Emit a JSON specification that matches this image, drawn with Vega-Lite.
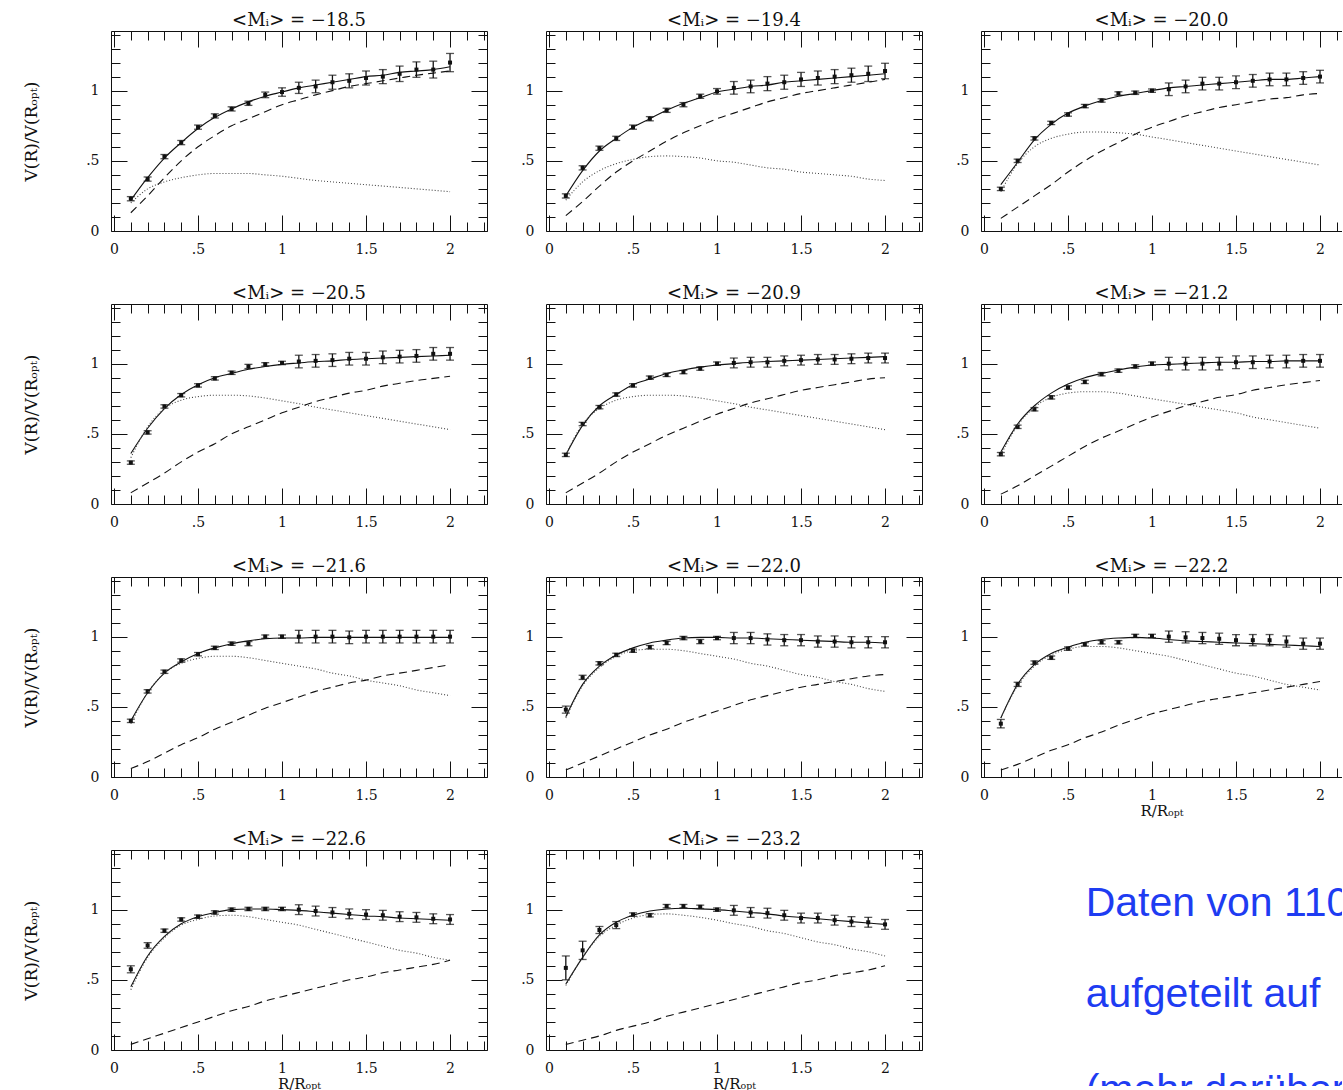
{
"$schema":"https://vega.github.io/schema/vega-lite/v6.json",
"padding":{"left":22,"top":11,"right":0,"bottom":0},
"background":"white",
"datasets":{
"rc":[
{"p":1,"x":0.1,"v":0.23,"e":0.015,"t":0.22,"d":0.2,"h":0.13},
{"p":1,"x":0.2,"v":0.37,"e":0.015,"t":0.38,"d":0.3,"h":0.25},
{"p":1,"x":0.3,"v":0.53,"e":0.015,"t":0.52,"d":0.35,"h":0.38},
{"p":1,"x":0.4,"v":0.63,"e":0.015,"t":0.63,"d":0.38,"h":0.5},
{"p":1,"x":0.5,"v":0.74,"e":0.015,"t":0.73,"d":0.4,"h":0.6},
{"p":1,"x":0.6,"v":0.82,"e":0.015,"t":0.81,"d":0.41,"h":0.68},
{"p":1,"x":0.7,"v":0.87,"e":0.015,"t":0.87,"d":0.41,"h":0.75},
{"p":1,"x":0.8,"v":0.91,"e":0.015,"t":0.92,"d":0.41,"h":0.8},
{"p":1,"x":0.9,"v":0.97,"e":0.02,"t":0.96,"d":0.4,"h":0.85},
{"p":1,"x":1.0,"v":0.99,"e":0.03,"t":0.99,"d":0.39,"h":0.9},
{"p":1,"x":1.1,"v":1.02,"e":0.04,"t":1.02,"d":0.375,"h":0.935},
{"p":1,"x":1.2,"v":1.03,"e":0.045,"t":1.04,"d":0.36,"h":0.97},
{"p":1,"x":1.3,"v":1.06,"e":0.05,"t":1.06,"d":0.35,"h":1.0},
{"p":1,"x":1.4,"v":1.07,"e":0.05,"t":1.08,"d":0.34,"h":1.03},
{"p":1,"x":1.5,"v":1.09,"e":0.05,"t":1.1,"d":0.33,"h":1.05},
{"p":1,"x":1.6,"v":1.1,"e":0.05,"t":1.11,"d":0.32,"h":1.07},
{"p":1,"x":1.7,"v":1.12,"e":0.055,"t":1.13,"d":0.31,"h":1.09},
{"p":1,"x":1.8,"v":1.15,"e":0.055,"t":1.14,"d":0.3,"h":1.11},
{"p":1,"x":1.9,"v":1.15,"e":0.06,"t":1.15,"d":0.29,"h":1.125},
{"p":1,"x":2.0,"v":1.2,"e":0.065,"t":1.17,"d":0.28,"h":1.14},
{"p":2,"x":0.1,"v":0.25,"e":0.015,"t":0.25,"d":0.22,"h":0.11},
{"p":2,"x":0.2,"v":0.45,"e":0.015,"t":0.43,"d":0.35,"h":0.21},
{"p":2,"x":0.3,"v":0.59,"e":0.015,"t":0.57,"d":0.43,"h":0.32},
{"p":2,"x":0.4,"v":0.66,"e":0.015,"t":0.66,"d":0.48,"h":0.42},
{"p":2,"x":0.5,"v":0.74,"e":0.015,"t":0.74,"d":0.51,"h":0.5},
{"p":2,"x":0.6,"v":0.8,"e":0.015,"t":0.8,"d":0.53,"h":0.57},
{"p":2,"x":0.7,"v":0.86,"e":0.015,"t":0.86,"d":0.535,"h":0.64},
{"p":2,"x":0.8,"v":0.9,"e":0.015,"t":0.91,"d":0.53,"h":0.7},
{"p":2,"x":0.9,"v":0.96,"e":0.015,"t":0.95,"d":0.52,"h":0.75},
{"p":2,"x":1.0,"v":0.995,"e":0.02,"t":0.99,"d":0.5,"h":0.8},
{"p":2,"x":1.1,"v":1.02,"e":0.045,"t":1.01,"d":0.49,"h":0.84},
{"p":2,"x":1.2,"v":1.03,"e":0.045,"t":1.03,"d":0.47,"h":0.88},
{"p":2,"x":1.3,"v":1.05,"e":0.05,"t":1.04,"d":0.45,"h":0.92},
{"p":2,"x":1.4,"v":1.06,"e":0.05,"t":1.06,"d":0.44,"h":0.95},
{"p":2,"x":1.5,"v":1.08,"e":0.05,"t":1.07,"d":0.42,"h":0.98},
{"p":2,"x":1.6,"v":1.09,"e":0.05,"t":1.08,"d":0.41,"h":1.0},
{"p":2,"x":1.7,"v":1.1,"e":0.05,"t":1.09,"d":0.4,"h":1.02},
{"p":2,"x":1.8,"v":1.11,"e":0.05,"t":1.1,"d":0.39,"h":1.04},
{"p":2,"x":1.9,"v":1.12,"e":0.055,"t":1.11,"d":0.37,"h":1.06},
{"p":2,"x":2.0,"v":1.14,"e":0.055,"t":1.12,"d":0.36,"h":1.08},
{"p":3,"x":0.1,"v":0.3,"e":0.012,"t":0.33,"d":0.28,"h":0.09},
{"p":3,"x":0.2,"v":0.5,"e":0.012,"t":0.49,"d":0.48,"h":0.17},
{"p":3,"x":0.3,"v":0.66,"e":0.012,"t":0.65,"d":0.6,"h":0.25},
{"p":3,"x":0.4,"v":0.77,"e":0.012,"t":0.76,"d":0.66,"h":0.33},
{"p":3,"x":0.5,"v":0.83,"e":0.012,"t":0.84,"d":0.69,"h":0.42},
{"p":3,"x":0.6,"v":0.89,"e":0.012,"t":0.89,"d":0.705,"h":0.5},
{"p":3,"x":0.7,"v":0.93,"e":0.012,"t":0.93,"d":0.705,"h":0.57},
{"p":3,"x":0.8,"v":0.98,"e":0.012,"t":0.96,"d":0.7,"h":0.63},
{"p":3,"x":0.9,"v":0.985,"e":0.012,"t":0.98,"d":0.69,"h":0.69},
{"p":3,"x":1.0,"v":1.0,"e":0.012,"t":1.0,"d":0.67,"h":0.74},
{"p":3,"x":1.1,"v":1.01,"e":0.045,"t":1.02,"d":0.65,"h":0.78},
{"p":3,"x":1.2,"v":1.03,"e":0.045,"t":1.03,"d":0.63,"h":0.82},
{"p":3,"x":1.3,"v":1.05,"e":0.045,"t":1.04,"d":0.61,"h":0.85},
{"p":3,"x":1.4,"v":1.05,"e":0.045,"t":1.05,"d":0.59,"h":0.88},
{"p":3,"x":1.5,"v":1.06,"e":0.045,"t":1.06,"d":0.57,"h":0.9},
{"p":3,"x":1.6,"v":1.07,"e":0.045,"t":1.07,"d":0.55,"h":0.92},
{"p":3,"x":1.7,"v":1.08,"e":0.045,"t":1.08,"d":0.53,"h":0.94},
{"p":3,"x":1.8,"v":1.08,"e":0.045,"t":1.08,"d":0.51,"h":0.95},
{"p":3,"x":1.9,"v":1.09,"e":0.045,"t":1.09,"d":0.49,"h":0.97},
{"p":3,"x":2.0,"v":1.1,"e":0.045,"t":1.1,"d":0.47,"h":0.98},
{"p":4,"x":0.1,"v":0.295,"e":0.012,"t":0.36,"d":0.33,"h":0.08},
{"p":4,"x":0.2,"v":0.51,"e":0.012,"t":0.54,"d":0.55,"h":0.15},
{"p":4,"x":0.3,"v":0.695,"e":0.012,"t":0.68,"d":0.68,"h":0.22},
{"p":4,"x":0.4,"v":0.775,"e":0.012,"t":0.78,"d":0.74,"h":0.3},
{"p":4,"x":0.5,"v":0.845,"e":0.012,"t":0.85,"d":0.765,"h":0.37},
{"p":4,"x":0.6,"v":0.895,"e":0.012,"t":0.9,"d":0.775,"h":0.43},
{"p":4,"x":0.7,"v":0.935,"e":0.012,"t":0.93,"d":0.775,"h":0.5},
{"p":4,"x":0.8,"v":0.98,"e":0.015,"t":0.96,"d":0.77,"h":0.55},
{"p":4,"x":0.9,"v":0.995,"e":0.012,"t":0.98,"d":0.755,"h":0.6},
{"p":4,"x":1.0,"v":1.005,"e":0.012,"t":0.995,"d":0.735,"h":0.65},
{"p":4,"x":1.1,"v":1.015,"e":0.045,"t":1.005,"d":0.715,"h":0.69},
{"p":4,"x":1.2,"v":1.02,"e":0.045,"t":1.015,"d":0.69,"h":0.73},
{"p":4,"x":1.3,"v":1.025,"e":0.045,"t":1.02,"d":0.67,"h":0.76},
{"p":4,"x":1.4,"v":1.035,"e":0.045,"t":1.03,"d":0.65,"h":0.79},
{"p":4,"x":1.5,"v":1.035,"e":0.045,"t":1.035,"d":0.63,"h":0.81},
{"p":4,"x":1.6,"v":1.045,"e":0.045,"t":1.04,"d":0.61,"h":0.84},
{"p":4,"x":1.7,"v":1.05,"e":0.045,"t":1.045,"d":0.59,"h":0.86},
{"p":4,"x":1.8,"v":1.055,"e":0.045,"t":1.05,"d":0.57,"h":0.88},
{"p":4,"x":1.9,"v":1.07,"e":0.045,"t":1.055,"d":0.55,"h":0.895},
{"p":4,"x":2.0,"v":1.07,"e":0.045,"t":1.06,"d":0.53,"h":0.91},
{"p":5,"x":0.1,"v":0.35,"e":0.012,"t":0.35,"d":0.35,"h":0.08},
{"p":5,"x":0.2,"v":0.57,"e":0.012,"t":0.56,"d":0.57,"h":0.15},
{"p":5,"x":0.3,"v":0.69,"e":0.012,"t":0.7,"d":0.68,"h":0.22},
{"p":5,"x":0.4,"v":0.78,"e":0.012,"t":0.78,"d":0.74,"h":0.3},
{"p":5,"x":0.5,"v":0.845,"e":0.012,"t":0.85,"d":0.765,"h":0.37},
{"p":5,"x":0.6,"v":0.9,"e":0.012,"t":0.89,"d":0.775,"h":0.43},
{"p":5,"x":0.7,"v":0.92,"e":0.012,"t":0.93,"d":0.775,"h":0.49},
{"p":5,"x":0.8,"v":0.94,"e":0.012,"t":0.955,"d":0.77,"h":0.54},
{"p":5,"x":0.9,"v":0.965,"e":0.012,"t":0.975,"d":0.755,"h":0.59},
{"p":5,"x":1.0,"v":1.0,"e":0.012,"t":0.99,"d":0.735,"h":0.64},
{"p":5,"x":1.1,"v":1.005,"e":0.035,"t":1.0,"d":0.715,"h":0.68},
{"p":5,"x":1.2,"v":1.01,"e":0.035,"t":1.01,"d":0.69,"h":0.72},
{"p":5,"x":1.3,"v":1.01,"e":0.035,"t":1.015,"d":0.67,"h":0.75},
{"p":5,"x":1.4,"v":1.02,"e":0.035,"t":1.02,"d":0.65,"h":0.78},
{"p":5,"x":1.5,"v":1.025,"e":0.035,"t":1.025,"d":0.63,"h":0.81},
{"p":5,"x":1.6,"v":1.03,"e":0.035,"t":1.03,"d":0.61,"h":0.83},
{"p":5,"x":1.7,"v":1.03,"e":0.035,"t":1.035,"d":0.59,"h":0.85},
{"p":5,"x":1.8,"v":1.035,"e":0.035,"t":1.04,"d":0.57,"h":0.87},
{"p":5,"x":1.9,"v":1.04,"e":0.035,"t":1.045,"d":0.55,"h":0.89},
{"p":5,"x":2.0,"v":1.04,"e":0.035,"t":1.05,"d":0.53,"h":0.9},
{"p":6,"x":0.1,"v":0.355,"e":0.012,"t":0.37,"d":0.35,"h":0.07},
{"p":6,"x":0.2,"v":0.55,"e":0.012,"t":0.57,"d":0.56,"h":0.13},
{"p":6,"x":0.3,"v":0.675,"e":0.012,"t":0.7,"d":0.69,"h":0.2},
{"p":6,"x":0.4,"v":0.76,"e":0.012,"t":0.79,"d":0.76,"h":0.27},
{"p":6,"x":0.5,"v":0.83,"e":0.012,"t":0.855,"d":0.79,"h":0.34},
{"p":6,"x":0.6,"v":0.87,"e":0.012,"t":0.9,"d":0.8,"h":0.41},
{"p":6,"x":0.7,"v":0.925,"e":0.012,"t":0.93,"d":0.8,"h":0.47},
{"p":6,"x":0.8,"v":0.95,"e":0.012,"t":0.955,"d":0.79,"h":0.52},
{"p":6,"x":0.9,"v":0.98,"e":0.012,"t":0.975,"d":0.77,"h":0.57},
{"p":6,"x":1.0,"v":1.0,"e":0.012,"t":0.99,"d":0.75,"h":0.62},
{"p":6,"x":1.1,"v":1.0,"e":0.045,"t":0.995,"d":0.73,"h":0.66},
{"p":6,"x":1.2,"v":1.0,"e":0.045,"t":1.0,"d":0.71,"h":0.7},
{"p":6,"x":1.3,"v":1.0,"e":0.045,"t":1.005,"d":0.69,"h":0.73},
{"p":6,"x":1.4,"v":1.0,"e":0.045,"t":1.01,"d":0.67,"h":0.76},
{"p":6,"x":1.5,"v":1.01,"e":0.045,"t":1.01,"d":0.65,"h":0.78},
{"p":6,"x":1.6,"v":1.01,"e":0.045,"t":1.015,"d":0.62,"h":0.81},
{"p":6,"x":1.7,"v":1.015,"e":0.045,"t":1.015,"d":0.6,"h":0.83},
{"p":6,"x":1.8,"v":1.015,"e":0.045,"t":1.02,"d":0.58,"h":0.85},
{"p":6,"x":1.9,"v":1.02,"e":0.045,"t":1.02,"d":0.56,"h":0.865},
{"p":6,"x":2.0,"v":1.02,"e":0.045,"t":1.02,"d":0.54,"h":0.88},
{"p":7,"x":0.1,"v":0.4,"e":0.012,"t":0.4,"d":0.38,"h":0.06},
{"p":7,"x":0.2,"v":0.61,"e":0.012,"t":0.6,"d":0.6,"h":0.11},
{"p":7,"x":0.3,"v":0.75,"e":0.012,"t":0.74,"d":0.74,"h":0.17},
{"p":7,"x":0.4,"v":0.83,"e":0.012,"t":0.82,"d":0.81,"h":0.23},
{"p":7,"x":0.5,"v":0.875,"e":0.012,"t":0.88,"d":0.845,"h":0.28},
{"p":7,"x":0.6,"v":0.92,"e":0.012,"t":0.92,"d":0.86,"h":0.34},
{"p":7,"x":0.7,"v":0.95,"e":0.012,"t":0.95,"d":0.86,"h":0.39},
{"p":7,"x":0.8,"v":0.95,"e":0.015,"t":0.97,"d":0.85,"h":0.44},
{"p":7,"x":0.9,"v":1.0,"e":0.012,"t":0.985,"d":0.83,"h":0.49},
{"p":7,"x":1.0,"v":1.0,"e":0.012,"t":0.99,"d":0.81,"h":0.53},
{"p":7,"x":1.1,"v":1.0,"e":0.045,"t":0.99,"d":0.79,"h":0.57},
{"p":7,"x":1.2,"v":1.0,"e":0.045,"t":0.995,"d":0.77,"h":0.61},
{"p":7,"x":1.3,"v":1.0,"e":0.045,"t":0.995,"d":0.74,"h":0.64},
{"p":7,"x":1.4,"v":0.995,"e":0.045,"t":0.995,"d":0.72,"h":0.67},
{"p":7,"x":1.5,"v":1.0,"e":0.045,"t":0.995,"d":0.69,"h":0.69},
{"p":7,"x":1.6,"v":1.0,"e":0.045,"t":0.995,"d":0.67,"h":0.72},
{"p":7,"x":1.7,"v":1.0,"e":0.045,"t":0.995,"d":0.65,"h":0.74},
{"p":7,"x":1.8,"v":1.0,"e":0.045,"t":0.995,"d":0.62,"h":0.76},
{"p":7,"x":1.9,"v":1.0,"e":0.045,"t":0.995,"d":0.6,"h":0.78},
{"p":7,"x":2.0,"v":1.0,"e":0.045,"t":0.995,"d":0.58,"h":0.8},
{"p":8,"x":0.1,"v":0.48,"e":0.025,"t":0.43,"d":0.42,"h":0.05},
{"p":8,"x":0.2,"v":0.71,"e":0.015,"t":0.66,"d":0.65,"h":0.1},
{"p":8,"x":0.3,"v":0.81,"e":0.012,"t":0.79,"d":0.78,"h":0.15},
{"p":8,"x":0.4,"v":0.87,"e":0.012,"t":0.87,"d":0.86,"h":0.2},
{"p":8,"x":0.5,"v":0.9,"e":0.012,"t":0.92,"d":0.9,"h":0.25},
{"p":8,"x":0.6,"v":0.925,"e":0.012,"t":0.955,"d":0.91,"h":0.3},
{"p":8,"x":0.7,"v":0.955,"e":0.012,"t":0.975,"d":0.91,"h":0.34},
{"p":8,"x":0.8,"v":0.99,"e":0.012,"t":0.99,"d":0.9,"h":0.39},
{"p":8,"x":0.9,"v":0.965,"e":0.015,"t":0.995,"d":0.88,"h":0.43},
{"p":8,"x":1.0,"v":0.99,"e":0.012,"t":0.995,"d":0.86,"h":0.47},
{"p":8,"x":1.1,"v":0.99,"e":0.04,"t":0.99,"d":0.84,"h":0.51},
{"p":8,"x":1.2,"v":0.99,"e":0.04,"t":0.99,"d":0.81,"h":0.55},
{"p":8,"x":1.3,"v":0.98,"e":0.04,"t":0.985,"d":0.79,"h":0.58},
{"p":8,"x":1.4,"v":0.975,"e":0.04,"t":0.98,"d":0.76,"h":0.61},
{"p":8,"x":1.5,"v":0.975,"e":0.04,"t":0.975,"d":0.73,"h":0.64},
{"p":8,"x":1.6,"v":0.965,"e":0.04,"t":0.97,"d":0.71,"h":0.66},
{"p":8,"x":1.7,"v":0.965,"e":0.04,"t":0.965,"d":0.68,"h":0.68},
{"p":8,"x":1.8,"v":0.96,"e":0.04,"t":0.96,"d":0.66,"h":0.7},
{"p":8,"x":1.9,"v":0.96,"e":0.04,"t":0.96,"d":0.63,"h":0.72},
{"p":8,"x":2.0,"v":0.96,"e":0.04,"t":0.955,"d":0.61,"h":0.73},
{"p":9,"x":0.1,"v":0.38,"e":0.03,"t":0.42,"d":0.42,"h":0.05},
{"p":9,"x":0.2,"v":0.66,"e":0.015,"t":0.66,"d":0.65,"h":0.09},
{"p":9,"x":0.3,"v":0.815,"e":0.012,"t":0.8,"d":0.79,"h":0.14},
{"p":9,"x":0.4,"v":0.85,"e":0.012,"t":0.88,"d":0.87,"h":0.19},
{"p":9,"x":0.5,"v":0.915,"e":0.012,"t":0.925,"d":0.91,"h":0.23},
{"p":9,"x":0.6,"v":0.945,"e":0.012,"t":0.96,"d":0.93,"h":0.28},
{"p":9,"x":0.7,"v":0.96,"e":0.012,"t":0.98,"d":0.93,"h":0.32},
{"p":9,"x":0.8,"v":0.96,"e":0.012,"t":0.99,"d":0.92,"h":0.37},
{"p":9,"x":0.9,"v":1.005,"e":0.012,"t":0.995,"d":0.9,"h":0.41},
{"p":9,"x":1.0,"v":1.005,"e":0.012,"t":0.99,"d":0.88,"h":0.45},
{"p":9,"x":1.1,"v":1.0,"e":0.04,"t":0.98,"d":0.86,"h":0.48},
{"p":9,"x":1.2,"v":0.995,"e":0.04,"t":0.97,"d":0.83,"h":0.51},
{"p":9,"x":1.3,"v":0.99,"e":0.04,"t":0.965,"d":0.8,"h":0.54},
{"p":9,"x":1.4,"v":0.985,"e":0.04,"t":0.96,"d":0.77,"h":0.56},
{"p":9,"x":1.5,"v":0.975,"e":0.04,"t":0.955,"d":0.74,"h":0.58},
{"p":9,"x":1.6,"v":0.975,"e":0.04,"t":0.95,"d":0.72,"h":0.6},
{"p":9,"x":1.7,"v":0.975,"e":0.04,"t":0.945,"d":0.69,"h":0.62},
{"p":9,"x":1.8,"v":0.965,"e":0.04,"t":0.94,"d":0.66,"h":0.64},
{"p":9,"x":1.9,"v":0.95,"e":0.04,"t":0.935,"d":0.64,"h":0.66},
{"p":9,"x":2.0,"v":0.95,"e":0.04,"t":0.93,"d":0.62,"h":0.68},
{"p":10,"x":0.1,"v":0.575,"e":0.025,"t":0.45,"d":0.43,"h":0.04},
{"p":10,"x":0.2,"v":0.745,"e":0.02,"t":0.67,"d":0.66,"h":0.08},
{"p":10,"x":0.3,"v":0.85,"e":0.012,"t":0.81,"d":0.8,"h":0.12},
{"p":10,"x":0.4,"v":0.93,"e":0.012,"t":0.9,"d":0.89,"h":0.16},
{"p":10,"x":0.5,"v":0.95,"e":0.012,"t":0.95,"d":0.93,"h":0.2},
{"p":10,"x":0.6,"v":0.98,"e":0.012,"t":0.98,"d":0.955,"h":0.24},
{"p":10,"x":0.7,"v":1.0,"e":0.012,"t":1.0,"d":0.96,"h":0.28},
{"p":10,"x":0.8,"v":1.005,"e":0.012,"t":1.005,"d":0.95,"h":0.31},
{"p":10,"x":0.9,"v":1.005,"e":0.012,"t":1.005,"d":0.93,"h":0.35},
{"p":10,"x":1.0,"v":1.005,"e":0.012,"t":1.0,"d":0.91,"h":0.38},
{"p":10,"x":1.1,"v":1.0,"e":0.035,"t":0.995,"d":0.89,"h":0.41},
{"p":10,"x":1.2,"v":0.99,"e":0.035,"t":0.985,"d":0.86,"h":0.44},
{"p":10,"x":1.3,"v":0.98,"e":0.035,"t":0.975,"d":0.83,"h":0.47},
{"p":10,"x":1.4,"v":0.97,"e":0.035,"t":0.965,"d":0.8,"h":0.5},
{"p":10,"x":1.5,"v":0.965,"e":0.035,"t":0.955,"d":0.77,"h":0.52},
{"p":10,"x":1.6,"v":0.96,"e":0.035,"t":0.95,"d":0.74,"h":0.55},
{"p":10,"x":1.7,"v":0.95,"e":0.035,"t":0.94,"d":0.71,"h":0.57},
{"p":10,"x":1.8,"v":0.945,"e":0.035,"t":0.935,"d":0.69,"h":0.59},
{"p":10,"x":1.9,"v":0.935,"e":0.035,"t":0.93,"d":0.66,"h":0.61},
{"p":10,"x":2.0,"v":0.93,"e":0.035,"t":0.925,"d":0.64,"h":0.64},
{"p":11,"x":0.1,"v":0.585,"e":0.085,"t":0.47,"d":0.46,"h":0.04},
{"p":11,"x":0.2,"v":0.71,"e":0.065,"t":0.66,"d":0.66,"h":0.07},
{"p":11,"x":0.3,"v":0.855,"e":0.025,"t":0.82,"d":0.81,"h":0.1},
{"p":11,"x":0.4,"v":0.89,"e":0.025,"t":0.91,"d":0.89,"h":0.14},
{"p":11,"x":0.5,"v":0.965,"e":0.012,"t":0.96,"d":0.94,"h":0.17},
{"p":11,"x":0.6,"v":0.96,"e":0.012,"t":0.99,"d":0.965,"h":0.2},
{"p":11,"x":0.7,"v":1.025,"e":0.012,"t":1.005,"d":0.97,"h":0.24},
{"p":11,"x":0.8,"v":1.025,"e":0.012,"t":1.01,"d":0.96,"h":0.27},
{"p":11,"x":0.9,"v":1.02,"e":0.012,"t":1.005,"d":0.945,"h":0.3},
{"p":11,"x":1.0,"v":1.0,"e":0.012,"t":1.0,"d":0.925,"h":0.33},
{"p":11,"x":1.1,"v":0.995,"e":0.035,"t":0.99,"d":0.9,"h":0.36},
{"p":11,"x":1.2,"v":0.98,"e":0.035,"t":0.98,"d":0.88,"h":0.39},
{"p":11,"x":1.3,"v":0.975,"e":0.035,"t":0.97,"d":0.85,"h":0.42},
{"p":11,"x":1.4,"v":0.96,"e":0.035,"t":0.955,"d":0.83,"h":0.45},
{"p":11,"x":1.5,"v":0.94,"e":0.035,"t":0.945,"d":0.8,"h":0.48},
{"p":11,"x":1.6,"v":0.94,"e":0.035,"t":0.935,"d":0.77,"h":0.5},
{"p":11,"x":1.7,"v":0.925,"e":0.035,"t":0.925,"d":0.75,"h":0.53},
{"p":11,"x":1.8,"v":0.915,"e":0.035,"t":0.915,"d":0.72,"h":0.55},
{"p":11,"x":1.9,"v":0.91,"e":0.035,"t":0.905,"d":0.7,"h":0.57},
{"p":11,"x":2.0,"v":0.895,"e":0.035,"t":0.895,"d":0.67,"h":0.6}
],
"tx":[
{"t":"Daten von 110","x":0.29,"y":0.72},
{"t":"aufgeteilt auf","x":0.29,"y":0.335},
{"t":"(mehr darüber","x":0.29,"y":-0.07}
]},
"data":{"name":"rc"},
"columns":3,
"spacing":{"row":73,"column":59},
"bounds":"flush",
"config":{
"view":{"stroke":null},
"axis":{"grid":false,"domainColor":"#111","tickColor":"#111","labelColor":"#111","labelFont":"DejaVu Serif","labelFontSize":14,"titleFont":"DejaVu Serif","titleFontSize":17,"titleFontWeight":"normal","titleColor":"#111","labelOverlap":false,"labelFlush":false,"labelBound":false},
"title":{"font":"DejaVu Serif","fontSize":18,"fontWeight":"normal","color":"#111","offset":-2,"anchor":"middle"}
},
"concat":[
{"width":376,"height":200,"title":"<Mᵢ>   =  −18.5","transform":[{"filter":"datum.p==1"}],"resolve":{"axis":{"x":"independent","y":"independent"}},"layer":[
{"mark":{"type":"errorbar","ticks":{"size":8},"color":"#111","thickness":1.3},"encoding":{"x":{"field":"x","type":"quantitative","scale":{"domain":[-0.018,2.22],"nice":false,"zero":false},"axis":{"orient":"bottom","values":[0,0.1,0.2,0.3,0.4,0.5,0.6,0.7,0.8,0.9,1,1.1,1.2,1.3,1.4,1.5,1.6,1.7,1.8,1.9,2,2.1,2.2],"labelExpr":"abs(datum.value*2-round(datum.value*2))<0.001 ? replace(format(datum.value,'~g'),'0.','.') : ''","tickSize":{"condition":{"test":"abs(datum.value*2-round(datum.value*2))<0.001","value":-16},"value":-9},"labelPadding":27,"title":null}},"y":{"field":"v","type":"quantitative","scale":{"domain":[0,1.425],"nice":false,"zero":false},"axis":{"orient":"left","values":[0,0.1,0.2,0.3,0.4,0.5,0.6,0.7,0.8,0.9,1,1.1,1.2,1.3,1.4],"labelExpr":"abs(datum.value*2-round(datum.value*2))<0.001 ? replace(format(datum.value,'~g'),'0.','.') : ''","tickSize":{"condition":{"test":"abs(datum.value*2-round(datum.value*2))<0.001","value":-16},"value":-9},"labelPadding":28,"title":"V(R)/V(Rₒₚₜ)","titlePadding":45}},"yError":{"field":"e"}}},
{"mark":{"type":"point","shape":"square","filled":true,"size":16,"color":"#111","opacity":1},"encoding":{"x":{"field":"x","type":"quantitative","axis":{"orient":"top","values":[0,0.1,0.2,0.3,0.4,0.5,0.6,0.7,0.8,0.9,1,1.1,1.2,1.3,1.4,1.5,1.6,1.7,1.8,1.9,2,2.1,2.2],"labels":false,"tickSize":{"condition":{"test":"abs(datum.value*2-round(datum.value*2))<0.001","value":-16},"value":-9},"title":null}},"y":{"field":"v","type":"quantitative","axis":{"orient":"right","values":[0,0.1,0.2,0.3,0.4,0.5,0.6,0.7,0.8,0.9,1,1.1,1.2,1.3,1.4],"labels":false,"tickSize":{"condition":{"test":"abs(datum.value*2-round(datum.value*2))<0.001","value":-16},"value":-9},"title":null}}}},
{"mark":{"type":"line","color":"#111","strokeWidth":1.1,"interpolate":"monotone"},"encoding":{"x":{"field":"x","type":"quantitative","axis":null},"y":{"field":"t","type":"quantitative","axis":null}}},
{"mark":{"type":"line","color":"#444","strokeWidth":1.1,"strokeDash":[1,2],"interpolate":"monotone"},"encoding":{"x":{"field":"x","type":"quantitative","axis":null},"y":{"field":"d","type":"quantitative","axis":null}}},
{"mark":{"type":"line","color":"#111","strokeWidth":1.1,"strokeDash":[8,5],"interpolate":"monotone"},"encoding":{"x":{"field":"x","type":"quantitative","axis":null},"y":{"field":"h","type":"quantitative","axis":null}}}
]},
{"width":376,"height":200,"title":"<Mᵢ>   =  −19.4","transform":[{"filter":"datum.p==2"}],"resolve":{"axis":{"x":"independent","y":"independent"}},"layer":[
{"mark":{"type":"errorbar","ticks":{"size":8},"color":"#111","thickness":1.3},"encoding":{"x":{"field":"x","type":"quantitative","scale":{"domain":[-0.018,2.22],"nice":false,"zero":false},"axis":{"orient":"bottom","values":[0,0.1,0.2,0.3,0.4,0.5,0.6,0.7,0.8,0.9,1,1.1,1.2,1.3,1.4,1.5,1.6,1.7,1.8,1.9,2,2.1,2.2],"labelExpr":"abs(datum.value*2-round(datum.value*2))<0.001 ? replace(format(datum.value,'~g'),'0.','.') : ''","tickSize":{"condition":{"test":"abs(datum.value*2-round(datum.value*2))<0.001","value":-16},"value":-9},"labelPadding":27,"title":null}},"y":{"field":"v","type":"quantitative","scale":{"domain":[0,1.425],"nice":false,"zero":false},"axis":{"orient":"left","values":[0,0.1,0.2,0.3,0.4,0.5,0.6,0.7,0.8,0.9,1,1.1,1.2,1.3,1.4],"labelExpr":"abs(datum.value*2-round(datum.value*2))<0.001 ? replace(format(datum.value,'~g'),'0.','.') : ''","tickSize":{"condition":{"test":"abs(datum.value*2-round(datum.value*2))<0.001","value":-16},"value":-9},"labelPadding":28,"title":null}},"yError":{"field":"e"}}},
{"mark":{"type":"point","shape":"square","filled":true,"size":16,"color":"#111","opacity":1},"encoding":{"x":{"field":"x","type":"quantitative","axis":{"orient":"top","values":[0,0.1,0.2,0.3,0.4,0.5,0.6,0.7,0.8,0.9,1,1.1,1.2,1.3,1.4,1.5,1.6,1.7,1.8,1.9,2,2.1,2.2],"labels":false,"tickSize":{"condition":{"test":"abs(datum.value*2-round(datum.value*2))<0.001","value":-16},"value":-9},"title":null}},"y":{"field":"v","type":"quantitative","axis":{"orient":"right","values":[0,0.1,0.2,0.3,0.4,0.5,0.6,0.7,0.8,0.9,1,1.1,1.2,1.3,1.4],"labels":false,"tickSize":{"condition":{"test":"abs(datum.value*2-round(datum.value*2))<0.001","value":-16},"value":-9},"title":null}}}},
{"mark":{"type":"line","color":"#111","strokeWidth":1.1,"interpolate":"monotone"},"encoding":{"x":{"field":"x","type":"quantitative","axis":null},"y":{"field":"t","type":"quantitative","axis":null}}},
{"mark":{"type":"line","color":"#444","strokeWidth":1.1,"strokeDash":[1,2],"interpolate":"monotone"},"encoding":{"x":{"field":"x","type":"quantitative","axis":null},"y":{"field":"d","type":"quantitative","axis":null}}},
{"mark":{"type":"line","color":"#111","strokeWidth":1.1,"strokeDash":[8,5],"interpolate":"monotone"},"encoding":{"x":{"field":"x","type":"quantitative","axis":null},"y":{"field":"h","type":"quantitative","axis":null}}}
]},
{"width":361,"height":200,"title":"<Mᵢ>   =  −20.0","transform":[{"filter":"datum.p==3"}],"resolve":{"axis":{"x":"independent","y":"independent"}},"layer":[
{"mark":{"type":"errorbar","ticks":{"size":8},"color":"#111","thickness":1.3},"encoding":{"x":{"field":"x","type":"quantitative","scale":{"domain":[-0.018,2.131],"nice":false,"zero":false},"axis":{"orient":"bottom","values":[0,0.1,0.2,0.3,0.4,0.5,0.6,0.7,0.8,0.9,1,1.1,1.2,1.3,1.4,1.5,1.6,1.7,1.8,1.9,2,2.1],"labelExpr":"abs(datum.value*2-round(datum.value*2))<0.001 ? replace(format(datum.value,'~g'),'0.','.') : ''","tickSize":{"condition":{"test":"abs(datum.value*2-round(datum.value*2))<0.001","value":-16},"value":-9},"labelPadding":27,"title":null}},"y":{"field":"v","type":"quantitative","scale":{"domain":[0,1.425],"nice":false,"zero":false},"axis":{"orient":"left","values":[0,0.1,0.2,0.3,0.4,0.5,0.6,0.7,0.8,0.9,1,1.1,1.2,1.3,1.4],"labelExpr":"abs(datum.value*2-round(datum.value*2))<0.001 ? replace(format(datum.value,'~g'),'0.','.') : ''","tickSize":{"condition":{"test":"abs(datum.value*2-round(datum.value*2))<0.001","value":-16},"value":-9},"labelPadding":28,"title":null}},"yError":{"field":"e"}}},
{"mark":{"type":"point","shape":"square","filled":true,"size":16,"color":"#111","opacity":1},"encoding":{"x":{"field":"x","type":"quantitative","axis":{"orient":"top","values":[0,0.1,0.2,0.3,0.4,0.5,0.6,0.7,0.8,0.9,1,1.1,1.2,1.3,1.4,1.5,1.6,1.7,1.8,1.9,2,2.1],"labels":false,"tickSize":{"condition":{"test":"abs(datum.value*2-round(datum.value*2))<0.001","value":-16},"value":-9},"title":null}},"y":{"field":"v","type":"quantitative","axis":null}}},
{"mark":{"type":"line","color":"#111","strokeWidth":1.1,"interpolate":"monotone"},"encoding":{"x":{"field":"x","type":"quantitative","axis":null},"y":{"field":"t","type":"quantitative","axis":null}}},
{"mark":{"type":"line","color":"#444","strokeWidth":1.1,"strokeDash":[1,2],"interpolate":"monotone"},"encoding":{"x":{"field":"x","type":"quantitative","axis":null},"y":{"field":"d","type":"quantitative","axis":null}}},
{"mark":{"type":"line","color":"#111","strokeWidth":1.1,"strokeDash":[8,5],"interpolate":"monotone"},"encoding":{"x":{"field":"x","type":"quantitative","axis":null},"y":{"field":"h","type":"quantitative","axis":null}}}
]},
{"width":376,"height":200,"title":"<Mᵢ>   =  −20.5","transform":[{"filter":"datum.p==4"}],"resolve":{"axis":{"x":"independent","y":"independent"}},"layer":[
{"mark":{"type":"errorbar","ticks":{"size":8},"color":"#111","thickness":1.3},"encoding":{"x":{"field":"x","type":"quantitative","scale":{"domain":[-0.018,2.22],"nice":false,"zero":false},"axis":{"orient":"bottom","values":[0,0.1,0.2,0.3,0.4,0.5,0.6,0.7,0.8,0.9,1,1.1,1.2,1.3,1.4,1.5,1.6,1.7,1.8,1.9,2,2.1,2.2],"labelExpr":"abs(datum.value*2-round(datum.value*2))<0.001 ? replace(format(datum.value,'~g'),'0.','.') : ''","tickSize":{"condition":{"test":"abs(datum.value*2-round(datum.value*2))<0.001","value":-16},"value":-9},"labelPadding":27,"title":null}},"y":{"field":"v","type":"quantitative","scale":{"domain":[0,1.425],"nice":false,"zero":false},"axis":{"orient":"left","values":[0,0.1,0.2,0.3,0.4,0.5,0.6,0.7,0.8,0.9,1,1.1,1.2,1.3,1.4],"labelExpr":"abs(datum.value*2-round(datum.value*2))<0.001 ? replace(format(datum.value,'~g'),'0.','.') : ''","tickSize":{"condition":{"test":"abs(datum.value*2-round(datum.value*2))<0.001","value":-16},"value":-9},"labelPadding":28,"title":"V(R)/V(Rₒₚₜ)","titlePadding":45}},"yError":{"field":"e"}}},
{"mark":{"type":"point","shape":"square","filled":true,"size":16,"color":"#111","opacity":1},"encoding":{"x":{"field":"x","type":"quantitative","axis":{"orient":"top","values":[0,0.1,0.2,0.3,0.4,0.5,0.6,0.7,0.8,0.9,1,1.1,1.2,1.3,1.4,1.5,1.6,1.7,1.8,1.9,2,2.1,2.2],"labels":false,"tickSize":{"condition":{"test":"abs(datum.value*2-round(datum.value*2))<0.001","value":-16},"value":-9},"title":null}},"y":{"field":"v","type":"quantitative","axis":{"orient":"right","values":[0,0.1,0.2,0.3,0.4,0.5,0.6,0.7,0.8,0.9,1,1.1,1.2,1.3,1.4],"labels":false,"tickSize":{"condition":{"test":"abs(datum.value*2-round(datum.value*2))<0.001","value":-16},"value":-9},"title":null}}}},
{"mark":{"type":"line","color":"#111","strokeWidth":1.1,"interpolate":"monotone"},"encoding":{"x":{"field":"x","type":"quantitative","axis":null},"y":{"field":"t","type":"quantitative","axis":null}}},
{"mark":{"type":"line","color":"#444","strokeWidth":1.1,"strokeDash":[1,2],"interpolate":"monotone"},"encoding":{"x":{"field":"x","type":"quantitative","axis":null},"y":{"field":"d","type":"quantitative","axis":null}}},
{"mark":{"type":"line","color":"#111","strokeWidth":1.1,"strokeDash":[8,5],"interpolate":"monotone"},"encoding":{"x":{"field":"x","type":"quantitative","axis":null},"y":{"field":"h","type":"quantitative","axis":null}}}
]},
{"width":376,"height":200,"title":"<Mᵢ>   =  −20.9","transform":[{"filter":"datum.p==5"}],"resolve":{"axis":{"x":"independent","y":"independent"}},"layer":[
{"mark":{"type":"errorbar","ticks":{"size":8},"color":"#111","thickness":1.3},"encoding":{"x":{"field":"x","type":"quantitative","scale":{"domain":[-0.018,2.22],"nice":false,"zero":false},"axis":{"orient":"bottom","values":[0,0.1,0.2,0.3,0.4,0.5,0.6,0.7,0.8,0.9,1,1.1,1.2,1.3,1.4,1.5,1.6,1.7,1.8,1.9,2,2.1,2.2],"labelExpr":"abs(datum.value*2-round(datum.value*2))<0.001 ? replace(format(datum.value,'~g'),'0.','.') : ''","tickSize":{"condition":{"test":"abs(datum.value*2-round(datum.value*2))<0.001","value":-16},"value":-9},"labelPadding":27,"title":null}},"y":{"field":"v","type":"quantitative","scale":{"domain":[0,1.425],"nice":false,"zero":false},"axis":{"orient":"left","values":[0,0.1,0.2,0.3,0.4,0.5,0.6,0.7,0.8,0.9,1,1.1,1.2,1.3,1.4],"labelExpr":"abs(datum.value*2-round(datum.value*2))<0.001 ? replace(format(datum.value,'~g'),'0.','.') : ''","tickSize":{"condition":{"test":"abs(datum.value*2-round(datum.value*2))<0.001","value":-16},"value":-9},"labelPadding":28,"title":null}},"yError":{"field":"e"}}},
{"mark":{"type":"point","shape":"square","filled":true,"size":16,"color":"#111","opacity":1},"encoding":{"x":{"field":"x","type":"quantitative","axis":{"orient":"top","values":[0,0.1,0.2,0.3,0.4,0.5,0.6,0.7,0.8,0.9,1,1.1,1.2,1.3,1.4,1.5,1.6,1.7,1.8,1.9,2,2.1,2.2],"labels":false,"tickSize":{"condition":{"test":"abs(datum.value*2-round(datum.value*2))<0.001","value":-16},"value":-9},"title":null}},"y":{"field":"v","type":"quantitative","axis":{"orient":"right","values":[0,0.1,0.2,0.3,0.4,0.5,0.6,0.7,0.8,0.9,1,1.1,1.2,1.3,1.4],"labels":false,"tickSize":{"condition":{"test":"abs(datum.value*2-round(datum.value*2))<0.001","value":-16},"value":-9},"title":null}}}},
{"mark":{"type":"line","color":"#111","strokeWidth":1.1,"interpolate":"monotone"},"encoding":{"x":{"field":"x","type":"quantitative","axis":null},"y":{"field":"t","type":"quantitative","axis":null}}},
{"mark":{"type":"line","color":"#444","strokeWidth":1.1,"strokeDash":[1,2],"interpolate":"monotone"},"encoding":{"x":{"field":"x","type":"quantitative","axis":null},"y":{"field":"d","type":"quantitative","axis":null}}},
{"mark":{"type":"line","color":"#111","strokeWidth":1.1,"strokeDash":[8,5],"interpolate":"monotone"},"encoding":{"x":{"field":"x","type":"quantitative","axis":null},"y":{"field":"h","type":"quantitative","axis":null}}}
]},
{"width":361,"height":200,"title":"<Mᵢ>   =  −21.2","transform":[{"filter":"datum.p==6"}],"resolve":{"axis":{"x":"independent","y":"independent"}},"layer":[
{"mark":{"type":"errorbar","ticks":{"size":8},"color":"#111","thickness":1.3},"encoding":{"x":{"field":"x","type":"quantitative","scale":{"domain":[-0.018,2.131],"nice":false,"zero":false},"axis":{"orient":"bottom","values":[0,0.1,0.2,0.3,0.4,0.5,0.6,0.7,0.8,0.9,1,1.1,1.2,1.3,1.4,1.5,1.6,1.7,1.8,1.9,2,2.1],"labelExpr":"abs(datum.value*2-round(datum.value*2))<0.001 ? replace(format(datum.value,'~g'),'0.','.') : ''","tickSize":{"condition":{"test":"abs(datum.value*2-round(datum.value*2))<0.001","value":-16},"value":-9},"labelPadding":27,"title":null}},"y":{"field":"v","type":"quantitative","scale":{"domain":[0,1.425],"nice":false,"zero":false},"axis":{"orient":"left","values":[0,0.1,0.2,0.3,0.4,0.5,0.6,0.7,0.8,0.9,1,1.1,1.2,1.3,1.4],"labelExpr":"abs(datum.value*2-round(datum.value*2))<0.001 ? replace(format(datum.value,'~g'),'0.','.') : ''","tickSize":{"condition":{"test":"abs(datum.value*2-round(datum.value*2))<0.001","value":-16},"value":-9},"labelPadding":28,"title":null}},"yError":{"field":"e"}}},
{"mark":{"type":"point","shape":"square","filled":true,"size":16,"color":"#111","opacity":1},"encoding":{"x":{"field":"x","type":"quantitative","axis":{"orient":"top","values":[0,0.1,0.2,0.3,0.4,0.5,0.6,0.7,0.8,0.9,1,1.1,1.2,1.3,1.4,1.5,1.6,1.7,1.8,1.9,2,2.1],"labels":false,"tickSize":{"condition":{"test":"abs(datum.value*2-round(datum.value*2))<0.001","value":-16},"value":-9},"title":null}},"y":{"field":"v","type":"quantitative","axis":null}}},
{"mark":{"type":"line","color":"#111","strokeWidth":1.1,"interpolate":"monotone"},"encoding":{"x":{"field":"x","type":"quantitative","axis":null},"y":{"field":"t","type":"quantitative","axis":null}}},
{"mark":{"type":"line","color":"#444","strokeWidth":1.1,"strokeDash":[1,2],"interpolate":"monotone"},"encoding":{"x":{"field":"x","type":"quantitative","axis":null},"y":{"field":"d","type":"quantitative","axis":null}}},
{"mark":{"type":"line","color":"#111","strokeWidth":1.1,"strokeDash":[8,5],"interpolate":"monotone"},"encoding":{"x":{"field":"x","type":"quantitative","axis":null},"y":{"field":"h","type":"quantitative","axis":null}}}
]},
{"width":376,"height":200,"title":"<Mᵢ>   =  −21.6","transform":[{"filter":"datum.p==7"}],"resolve":{"axis":{"x":"independent","y":"independent"}},"layer":[
{"mark":{"type":"errorbar","ticks":{"size":8},"color":"#111","thickness":1.3},"encoding":{"x":{"field":"x","type":"quantitative","scale":{"domain":[-0.018,2.22],"nice":false,"zero":false},"axis":{"orient":"bottom","values":[0,0.1,0.2,0.3,0.4,0.5,0.6,0.7,0.8,0.9,1,1.1,1.2,1.3,1.4,1.5,1.6,1.7,1.8,1.9,2,2.1,2.2],"labelExpr":"abs(datum.value*2-round(datum.value*2))<0.001 ? replace(format(datum.value,'~g'),'0.','.') : ''","tickSize":{"condition":{"test":"abs(datum.value*2-round(datum.value*2))<0.001","value":-16},"value":-9},"labelPadding":27,"title":null}},"y":{"field":"v","type":"quantitative","scale":{"domain":[0,1.425],"nice":false,"zero":false},"axis":{"orient":"left","values":[0,0.1,0.2,0.3,0.4,0.5,0.6,0.7,0.8,0.9,1,1.1,1.2,1.3,1.4],"labelExpr":"abs(datum.value*2-round(datum.value*2))<0.001 ? replace(format(datum.value,'~g'),'0.','.') : ''","tickSize":{"condition":{"test":"abs(datum.value*2-round(datum.value*2))<0.001","value":-16},"value":-9},"labelPadding":28,"title":"V(R)/V(Rₒₚₜ)","titlePadding":45}},"yError":{"field":"e"}}},
{"mark":{"type":"point","shape":"square","filled":true,"size":16,"color":"#111","opacity":1},"encoding":{"x":{"field":"x","type":"quantitative","axis":{"orient":"top","values":[0,0.1,0.2,0.3,0.4,0.5,0.6,0.7,0.8,0.9,1,1.1,1.2,1.3,1.4,1.5,1.6,1.7,1.8,1.9,2,2.1,2.2],"labels":false,"tickSize":{"condition":{"test":"abs(datum.value*2-round(datum.value*2))<0.001","value":-16},"value":-9},"title":null}},"y":{"field":"v","type":"quantitative","axis":{"orient":"right","values":[0,0.1,0.2,0.3,0.4,0.5,0.6,0.7,0.8,0.9,1,1.1,1.2,1.3,1.4],"labels":false,"tickSize":{"condition":{"test":"abs(datum.value*2-round(datum.value*2))<0.001","value":-16},"value":-9},"title":null}}}},
{"mark":{"type":"line","color":"#111","strokeWidth":1.1,"interpolate":"monotone"},"encoding":{"x":{"field":"x","type":"quantitative","axis":null},"y":{"field":"t","type":"quantitative","axis":null}}},
{"mark":{"type":"line","color":"#444","strokeWidth":1.1,"strokeDash":[1,2],"interpolate":"monotone"},"encoding":{"x":{"field":"x","type":"quantitative","axis":null},"y":{"field":"d","type":"quantitative","axis":null}}},
{"mark":{"type":"line","color":"#111","strokeWidth":1.1,"strokeDash":[8,5],"interpolate":"monotone"},"encoding":{"x":{"field":"x","type":"quantitative","axis":null},"y":{"field":"h","type":"quantitative","axis":null}}}
]},
{"width":376,"height":200,"title":"<Mᵢ>   =  −22.0","transform":[{"filter":"datum.p==8"}],"resolve":{"axis":{"x":"independent","y":"independent"}},"layer":[
{"mark":{"type":"errorbar","ticks":{"size":8},"color":"#111","thickness":1.3},"encoding":{"x":{"field":"x","type":"quantitative","scale":{"domain":[-0.018,2.22],"nice":false,"zero":false},"axis":{"orient":"bottom","values":[0,0.1,0.2,0.3,0.4,0.5,0.6,0.7,0.8,0.9,1,1.1,1.2,1.3,1.4,1.5,1.6,1.7,1.8,1.9,2,2.1,2.2],"labelExpr":"abs(datum.value*2-round(datum.value*2))<0.001 ? replace(format(datum.value,'~g'),'0.','.') : ''","tickSize":{"condition":{"test":"abs(datum.value*2-round(datum.value*2))<0.001","value":-16},"value":-9},"labelPadding":27,"title":null}},"y":{"field":"v","type":"quantitative","scale":{"domain":[0,1.425],"nice":false,"zero":false},"axis":{"orient":"left","values":[0,0.1,0.2,0.3,0.4,0.5,0.6,0.7,0.8,0.9,1,1.1,1.2,1.3,1.4],"labelExpr":"abs(datum.value*2-round(datum.value*2))<0.001 ? replace(format(datum.value,'~g'),'0.','.') : ''","tickSize":{"condition":{"test":"abs(datum.value*2-round(datum.value*2))<0.001","value":-16},"value":-9},"labelPadding":28,"title":null}},"yError":{"field":"e"}}},
{"mark":{"type":"point","shape":"square","filled":true,"size":16,"color":"#111","opacity":1},"encoding":{"x":{"field":"x","type":"quantitative","axis":{"orient":"top","values":[0,0.1,0.2,0.3,0.4,0.5,0.6,0.7,0.8,0.9,1,1.1,1.2,1.3,1.4,1.5,1.6,1.7,1.8,1.9,2,2.1,2.2],"labels":false,"tickSize":{"condition":{"test":"abs(datum.value*2-round(datum.value*2))<0.001","value":-16},"value":-9},"title":null}},"y":{"field":"v","type":"quantitative","axis":{"orient":"right","values":[0,0.1,0.2,0.3,0.4,0.5,0.6,0.7,0.8,0.9,1,1.1,1.2,1.3,1.4],"labels":false,"tickSize":{"condition":{"test":"abs(datum.value*2-round(datum.value*2))<0.001","value":-16},"value":-9},"title":null}}}},
{"mark":{"type":"line","color":"#111","strokeWidth":1.1,"interpolate":"monotone"},"encoding":{"x":{"field":"x","type":"quantitative","axis":null},"y":{"field":"t","type":"quantitative","axis":null}}},
{"mark":{"type":"line","color":"#444","strokeWidth":1.1,"strokeDash":[1,2],"interpolate":"monotone"},"encoding":{"x":{"field":"x","type":"quantitative","axis":null},"y":{"field":"d","type":"quantitative","axis":null}}},
{"mark":{"type":"line","color":"#111","strokeWidth":1.1,"strokeDash":[8,5],"interpolate":"monotone"},"encoding":{"x":{"field":"x","type":"quantitative","axis":null},"y":{"field":"h","type":"quantitative","axis":null}}}
]},
{"width":361,"height":200,"title":"<Mᵢ>   =  −22.2","transform":[{"filter":"datum.p==9"}],"resolve":{"axis":{"x":"independent","y":"independent"}},"layer":[
{"mark":{"type":"errorbar","ticks":{"size":8},"color":"#111","thickness":1.3},"encoding":{"x":{"field":"x","type":"quantitative","scale":{"domain":[-0.018,2.131],"nice":false,"zero":false},"axis":{"orient":"bottom","values":[0,0.1,0.2,0.3,0.4,0.5,0.6,0.7,0.8,0.9,1,1.1,1.2,1.3,1.4,1.5,1.6,1.7,1.8,1.9,2,2.1],"labelExpr":"abs(datum.value*2-round(datum.value*2))<0.001 ? replace(format(datum.value,'~g'),'0.','.') : ''","tickSize":{"condition":{"test":"abs(datum.value*2-round(datum.value*2))<0.001","value":-16},"value":-9},"labelPadding":27,"title":"R/Rₒₚₜ","titlePadding":-6,"titleFontSize":15}},"y":{"field":"v","type":"quantitative","scale":{"domain":[0,1.425],"nice":false,"zero":false},"axis":{"orient":"left","values":[0,0.1,0.2,0.3,0.4,0.5,0.6,0.7,0.8,0.9,1,1.1,1.2,1.3,1.4],"labelExpr":"abs(datum.value*2-round(datum.value*2))<0.001 ? replace(format(datum.value,'~g'),'0.','.') : ''","tickSize":{"condition":{"test":"abs(datum.value*2-round(datum.value*2))<0.001","value":-16},"value":-9},"labelPadding":28,"title":null}},"yError":{"field":"e"}}},
{"mark":{"type":"point","shape":"square","filled":true,"size":16,"color":"#111","opacity":1},"encoding":{"x":{"field":"x","type":"quantitative","axis":{"orient":"top","values":[0,0.1,0.2,0.3,0.4,0.5,0.6,0.7,0.8,0.9,1,1.1,1.2,1.3,1.4,1.5,1.6,1.7,1.8,1.9,2,2.1],"labels":false,"tickSize":{"condition":{"test":"abs(datum.value*2-round(datum.value*2))<0.001","value":-16},"value":-9},"title":null}},"y":{"field":"v","type":"quantitative","axis":null}}},
{"mark":{"type":"line","color":"#111","strokeWidth":1.1,"interpolate":"monotone"},"encoding":{"x":{"field":"x","type":"quantitative","axis":null},"y":{"field":"t","type":"quantitative","axis":null}}},
{"mark":{"type":"line","color":"#444","strokeWidth":1.1,"strokeDash":[1,2],"interpolate":"monotone"},"encoding":{"x":{"field":"x","type":"quantitative","axis":null},"y":{"field":"d","type":"quantitative","axis":null}}},
{"mark":{"type":"line","color":"#111","strokeWidth":1.1,"strokeDash":[8,5],"interpolate":"monotone"},"encoding":{"x":{"field":"x","type":"quantitative","axis":null},"y":{"field":"h","type":"quantitative","axis":null}}}
]},
{"width":376,"height":200,"title":"<Mᵢ>   =  −22.6","transform":[{"filter":"datum.p==10"}],"resolve":{"axis":{"x":"independent","y":"independent"}},"layer":[
{"mark":{"type":"errorbar","ticks":{"size":8},"color":"#111","thickness":1.3},"encoding":{"x":{"field":"x","type":"quantitative","scale":{"domain":[-0.018,2.22],"nice":false,"zero":false},"axis":{"orient":"bottom","values":[0,0.1,0.2,0.3,0.4,0.5,0.6,0.7,0.8,0.9,1,1.1,1.2,1.3,1.4,1.5,1.6,1.7,1.8,1.9,2,2.1,2.2],"labelExpr":"abs(datum.value*2-round(datum.value*2))<0.001 ? replace(format(datum.value,'~g'),'0.','.') : ''","tickSize":{"condition":{"test":"abs(datum.value*2-round(datum.value*2))<0.001","value":-16},"value":-9},"labelPadding":27,"title":"R/Rₒₚₜ","titlePadding":-6,"titleFontSize":15}},"y":{"field":"v","type":"quantitative","scale":{"domain":[0,1.425],"nice":false,"zero":false},"axis":{"orient":"left","values":[0,0.1,0.2,0.3,0.4,0.5,0.6,0.7,0.8,0.9,1,1.1,1.2,1.3,1.4],"labelExpr":"abs(datum.value*2-round(datum.value*2))<0.001 ? replace(format(datum.value,'~g'),'0.','.') : ''","tickSize":{"condition":{"test":"abs(datum.value*2-round(datum.value*2))<0.001","value":-16},"value":-9},"labelPadding":28,"title":"V(R)/V(Rₒₚₜ)","titlePadding":45}},"yError":{"field":"e"}}},
{"mark":{"type":"point","shape":"square","filled":true,"size":16,"color":"#111","opacity":1},"encoding":{"x":{"field":"x","type":"quantitative","axis":{"orient":"top","values":[0,0.1,0.2,0.3,0.4,0.5,0.6,0.7,0.8,0.9,1,1.1,1.2,1.3,1.4,1.5,1.6,1.7,1.8,1.9,2,2.1,2.2],"labels":false,"tickSize":{"condition":{"test":"abs(datum.value*2-round(datum.value*2))<0.001","value":-16},"value":-9},"title":null}},"y":{"field":"v","type":"quantitative","axis":{"orient":"right","values":[0,0.1,0.2,0.3,0.4,0.5,0.6,0.7,0.8,0.9,1,1.1,1.2,1.3,1.4],"labels":false,"tickSize":{"condition":{"test":"abs(datum.value*2-round(datum.value*2))<0.001","value":-16},"value":-9},"title":null}}}},
{"mark":{"type":"line","color":"#111","strokeWidth":1.1,"interpolate":"monotone"},"encoding":{"x":{"field":"x","type":"quantitative","axis":null},"y":{"field":"t","type":"quantitative","axis":null}}},
{"mark":{"type":"line","color":"#444","strokeWidth":1.1,"strokeDash":[1,2],"interpolate":"monotone"},"encoding":{"x":{"field":"x","type":"quantitative","axis":null},"y":{"field":"d","type":"quantitative","axis":null}}},
{"mark":{"type":"line","color":"#111","strokeWidth":1.1,"strokeDash":[8,5],"interpolate":"monotone"},"encoding":{"x":{"field":"x","type":"quantitative","axis":null},"y":{"field":"h","type":"quantitative","axis":null}}}
]},
{"width":376,"height":200,"title":"<Mᵢ>   =  −23.2","transform":[{"filter":"datum.p==11"}],"resolve":{"axis":{"x":"independent","y":"independent"}},"layer":[
{"mark":{"type":"errorbar","ticks":{"size":8},"color":"#111","thickness":1.3},"encoding":{"x":{"field":"x","type":"quantitative","scale":{"domain":[-0.018,2.22],"nice":false,"zero":false},"axis":{"orient":"bottom","values":[0,0.1,0.2,0.3,0.4,0.5,0.6,0.7,0.8,0.9,1,1.1,1.2,1.3,1.4,1.5,1.6,1.7,1.8,1.9,2,2.1,2.2],"labelExpr":"abs(datum.value*2-round(datum.value*2))<0.001 ? replace(format(datum.value,'~g'),'0.','.') : ''","tickSize":{"condition":{"test":"abs(datum.value*2-round(datum.value*2))<0.001","value":-16},"value":-9},"labelPadding":27,"title":"R/Rₒₚₜ","titlePadding":-6,"titleFontSize":15}},"y":{"field":"v","type":"quantitative","scale":{"domain":[0,1.425],"nice":false,"zero":false},"axis":{"orient":"left","values":[0,0.1,0.2,0.3,0.4,0.5,0.6,0.7,0.8,0.9,1,1.1,1.2,1.3,1.4],"labelExpr":"abs(datum.value*2-round(datum.value*2))<0.001 ? replace(format(datum.value,'~g'),'0.','.') : ''","tickSize":{"condition":{"test":"abs(datum.value*2-round(datum.value*2))<0.001","value":-16},"value":-9},"labelPadding":28,"title":null}},"yError":{"field":"e"}}},
{"mark":{"type":"point","shape":"square","filled":true,"size":16,"color":"#111","opacity":1},"encoding":{"x":{"field":"x","type":"quantitative","axis":{"orient":"top","values":[0,0.1,0.2,0.3,0.4,0.5,0.6,0.7,0.8,0.9,1,1.1,1.2,1.3,1.4,1.5,1.6,1.7,1.8,1.9,2,2.1,2.2],"labels":false,"tickSize":{"condition":{"test":"abs(datum.value*2-round(datum.value*2))<0.001","value":-16},"value":-9},"title":null}},"y":{"field":"v","type":"quantitative","axis":{"orient":"right","values":[0,0.1,0.2,0.3,0.4,0.5,0.6,0.7,0.8,0.9,1,1.1,1.2,1.3,1.4],"labels":false,"tickSize":{"condition":{"test":"abs(datum.value*2-round(datum.value*2))<0.001","value":-16},"value":-9},"title":null}}}},
{"mark":{"type":"line","color":"#111","strokeWidth":1.1,"interpolate":"monotone"},"encoding":{"x":{"field":"x","type":"quantitative","axis":null},"y":{"field":"t","type":"quantitative","axis":null}}},
{"mark":{"type":"line","color":"#444","strokeWidth":1.1,"strokeDash":[1,2],"interpolate":"monotone"},"encoding":{"x":{"field":"x","type":"quantitative","axis":null},"y":{"field":"d","type":"quantitative","axis":null}}},
{"mark":{"type":"line","color":"#111","strokeWidth":1.1,"strokeDash":[8,5],"interpolate":"monotone"},"encoding":{"x":{"field":"x","type":"quantitative","axis":null},"y":{"field":"h","type":"quantitative","axis":null}}}
]},
{"width":361,"height":236,"data":{"name":"tx"},
"mark":{"type":"text","align":"left","baseline":"alphabetic","font":"Liberation Sans","fontSize":41,"color":"#1e3cf2","clip":true},
"encoding":{"x":{"field":"x","type":"quantitative","scale":{"domain":[0,1],"nice":false,"zero":false},"axis":null},
"y":{"field":"y","type":"quantitative","scale":{"domain":[0,1],"nice":false,"zero":false},"axis":null},
"text":{"field":"t"}}}
]
}
